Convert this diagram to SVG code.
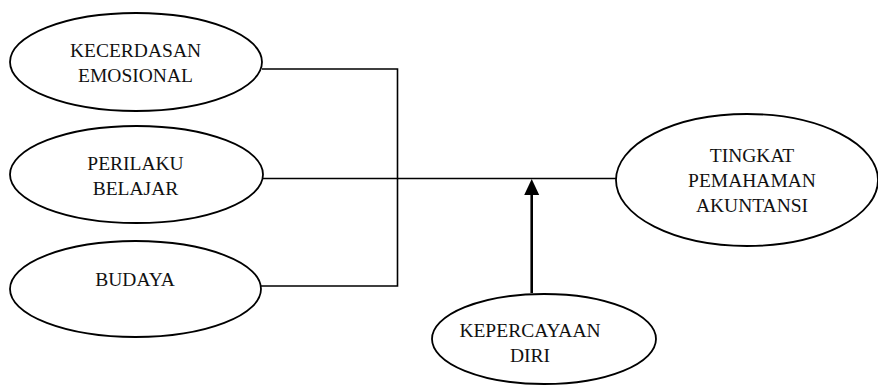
<svg xmlns="http://www.w3.org/2000/svg" width="878" height="385" viewBox="0 0 878 385">
<style>
.n{fill:#fff;stroke:#000;stroke-width:1.8}
.t{font-family:"Liberation Serif","Times New Roman",serif;font-size:19.5px;fill:#111;text-anchor:middle}
.c{fill:none;stroke:#000;stroke-width:1.6}
</style>
<defs>
<marker id="ah" markerWidth="15" markerHeight="16" refX="7.5" refY="0" orient="auto-start-reverse" markerUnits="userSpaceOnUse" viewBox="0 0 15 16">
<path d="M0,16 L7.5,0 L15,16 Z" fill="#000"/>
</marker>
</defs>
<rect width="878" height="385" fill="#fff"/>
<g id="connectors">
<polyline class="c" points="262,69 397.5,69 397.5,286 261,286"/>
<line class="c" x1="263" y1="178.5" x2="617" y2="178.5" stroke-width="2"/>
<line x1="531.7" y1="293" x2="531.7" y2="195" stroke="#000" stroke-width="2.6"/>
<path d="M524.2,195 L531.7,179 L539.2,195 Z" fill="#000"/>
</g>
<g id="kecerdasan">
<ellipse class="n" cx="136" cy="62" rx="126" ry="49"/>
<text class="t" x="135.5" y="57.3">KECERDASAN</text>
<text class="t" x="135.5" y="82.3">EMOSIONAL</text>
</g>
<g id="perilaku">
<ellipse class="n" cx="136.5" cy="174.5" rx="126.5" ry="48.5"/>
<text class="t" x="135.5" y="170">PERILAKU</text>
<text class="t" x="135.5" y="195">BELAJAR</text>
</g>
<g id="budaya">
<ellipse class="n" cx="135.5" cy="289" rx="125.5" ry="48"/>
<text class="t" x="135" y="286">BUDAYA</text>
</g>
<g id="tingkat">
<ellipse class="n" cx="747" cy="180" rx="131" ry="66"/>
<text class="t" x="752" y="162.3">TINGKAT</text>
<text class="t" x="752" y="187.3">PEMAHAMAN</text>
<text class="t" x="752" y="212.3">AKUNTANSI</text>
</g>
<g id="kepercayaan">
<ellipse class="n" cx="544" cy="339" rx="112" ry="45"/>
<text class="t" x="530" y="336.7">KEPERCAYAAN</text>
<text class="t" x="530" y="361.7">DIRI</text>
</g>
</svg>
